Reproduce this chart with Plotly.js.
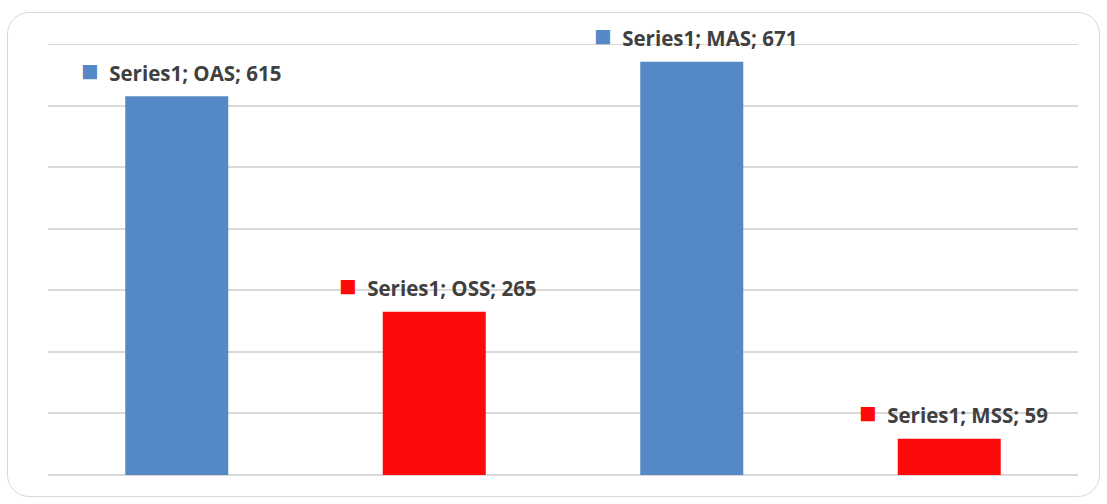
<!DOCTYPE html>
<html><head><meta charset="utf-8">
<script src="https://cdn.plot.ly/plotly-3.0.1.min.js"></script>
<style>
html,body{margin:0;padding:0;background:#fff;}
#frame{position:absolute;left:7px;top:12px;width:1091px;height:483px;border:1px solid #d9d9d9;border-radius:22px;}
#chart{position:absolute;left:0;top:0;width:1107px;height:504px;}
</style></head>
<body>
<div id="frame"></div>
<div id="chart"></div>
<script>
const seriesName = "Series1";
const categories = ["OAS", "OSS", "MAS", "MSS"];
const values = [615, 265, 671, 59];
const colors = ["#5588c6", "#ff0a0a", "#5588c6", "#ff0a0a"];
const gridValues = [0, 100, 200, 300, 400, 500, 600, 700];

const trace = {
  type: "bar",
  x: categories,
  y: values,
  marker: {color: colors},
  width: 0.4,
  hoverinfo: "x+y"
};

const annotations = categories.map((c, i) => ({
  x: c, y: values[i], xref: "x", yref: "y",
  text: '<span style="color:' + colors[i] + ';font-size:29px">■</span>  ' + seriesName + '; ' + c + '; ' + values[i],
  showarrow: false, yanchor: "middle", xanchor: "center",
  yshift: 27, xshift: 4,
  font: {family: "'Open Sans', sans-serif", size: 20.5, color: "#404040", weight: "bold"}
}));

const layout = {
  width: 1107, height: 504,
  margin: {l: 48, r: 29, t: 44, b: 29},
  paper_bgcolor: "rgba(0,0,0,0)",
  plot_bgcolor: "rgba(0,0,0,0)",
  showlegend: false,
  xaxis: {showticklabels: false, showgrid: false, zeroline: false, showline: false, ticks: ""},
  yaxis: {range: [0, 700], tickvals: gridValues, showticklabels: false,
          showgrid: true, gridcolor: "#d9d9d9", gridwidth: 2, zeroline: true, zerolinecolor: "#d9d9d9", zerolinewidth: 2, showline: false, ticks: ""},
  shapes: [{type: "line", xref: "paper", yref: "y", x0: 0, x1: 1, y0: gridValues[gridValues.length-1], y1: gridValues[gridValues.length-1],
            line: {color: "#d9d9d9", width: 2}, layer: "below"}],
  annotations: annotations
};

Plotly.newPlot("chart", [trace], layout, {displayModeBar: false, staticPlot: true});
</script>
</body></html>
